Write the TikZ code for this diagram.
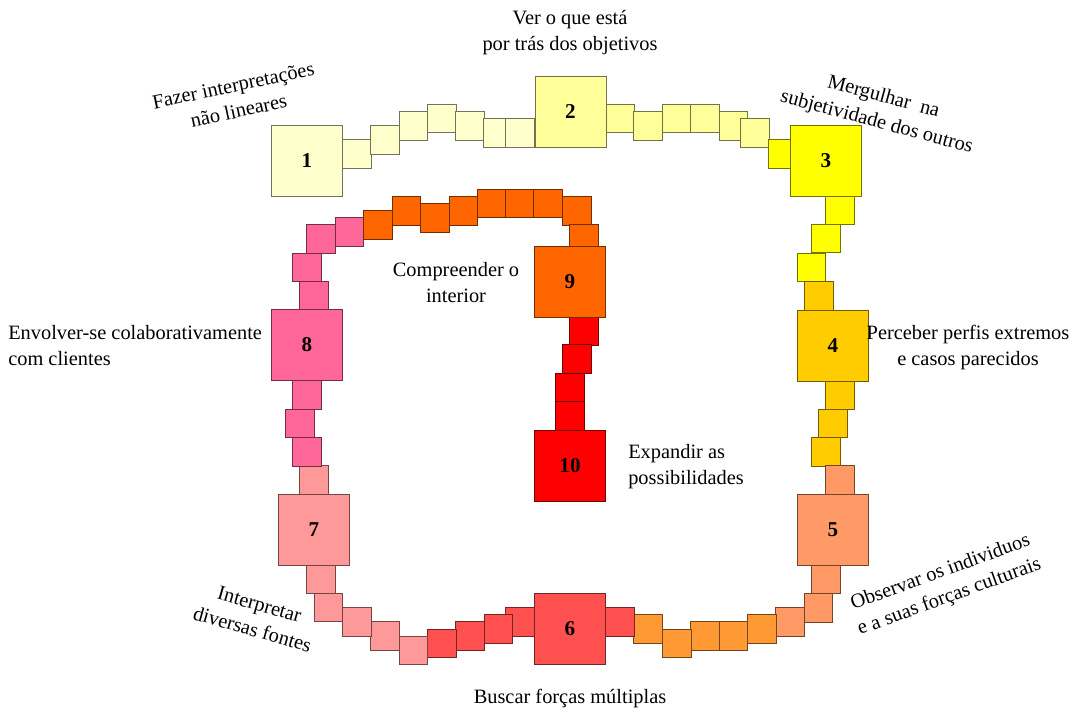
\documentclass[tikz,border=0pt]{standalone}
\usepackage{fontspec}
\setmainfont{Liberation Serif}
\usepackage{xcolor}
\definecolor{pale}{HTML}{FFFFCC}
\definecolor{cream}{HTML}{FFFF99}
\definecolor{lemon}{HTML}{FFFF00}
\definecolor{amber}{HTML}{FFCC00}
\definecolor{salmon}{HTML}{FF9966}
\definecolor{tangerine}{HTML}{FF9933}
\definecolor{coral}{HTML}{FF5050}
\definecolor{rosy}{HTML}{FF9999}
\definecolor{hotpink}{HTML}{FF6699}
\definecolor{blaze}{HTML}{FF6600}
\definecolor{scarlet}{HTML}{FF0000}
\tikzset{
  tile/.style={draw=#1!45!black, fill=#1, line width=0.7pt, minimum size=7.08mm, inner sep=0pt},
  block/.style={tile=#1, minimum size=17.75mm, font=\bfseries\fontsize{15}{18}\selectfont},
  lbl/.style={align=center, inner sep=0pt, font=\fontsize{14.5}{18.5}\selectfont}
}

\begin{document}
\begin{tikzpicture}[x=0.25mm,y=-0.25mm]
      \useasboundingbox (0,0) rectangle (1084,711);

      % 1 -> 2
      \node[tile=pale] (s1a) at (357,154)   {};
      \node[tile=pale] (s1b) at (385,140)   {};
      \node[tile=pale] (s1c) at (413.5,126) {};
      \node[tile=pale] (s1d) at (442,118.5) {};
      \node[tile=pale] (s1e) at (470,126)   {};
      \node[tile=pale] (s1f) at (498,133)   {};
      \node[tile=pale] (s1g) at (520,133)   {};
      % 2 -> 3
      \node[tile=cream] (s2a) at (620,118.5)  {};
      \node[tile=cream] (s2b) at (648,126)    {};
      \node[tile=cream] (s2c) at (677,118.5)  {};
      \node[tile=cream] (s2d) at (705,118.5)  {};
      \node[tile=cream] (s2e) at (733.5,126)  {};
      \node[tile=cream] (s2f) at (755,133)    {};
      \node[tile=lemon] (s2g) at (783,154)    {};
      % 3 -> 4
      \node[tile=lemon] (s3a) at (840,210)    {};
      \node[tile=lemon] (s3b) at (826,238.5)  {};
      \node[tile=lemon] (s3c) at (811.5,267.5){};
      \node[tile=amber] (s3d) at (819,296)    {};
      % 4 -> 5
      \node[tile=amber]  (s4a) at (840,395)   {};
      \node[tile=amber]  (s4b) at (833,423.5) {};
      \node[tile=amber]  (s4c) at (826,452)   {};
      \node[tile=salmon] (s4d) at (840,480)   {};
      % 5 -> 6
      \node[tile=salmon]    (s5a) at (826,579.5) {};
      \node[tile=salmon]    (s5b) at (818.5,608) {};
      \node[tile=salmon]    (s5c) at (790,622)   {};
      \node[tile=tangerine] (s5d) at (762,629)   {};
      \node[tile=tangerine] (s5e) at (733.5,636) {};
      \node[tile=tangerine] (s5f) at (705,636)   {};
      \node[tile=tangerine] (s5g) at (677,643.5) {};
      \node[tile=tangerine] (s5h) at (648,629)   {};
      \node[tile=coral]     (s5i) at (620,622)   {};
      % 6 -> 7
      \node[tile=coral] (s6a) at (520,622)     {};
      \node[tile=coral] (s6b) at (498.5,629)   {};
      \node[tile=coral] (s6c) at (470,636)     {};
      \node[tile=coral] (s6d) at (442,643.5)   {};
      \node[tile=rosy]  (s6e) at (413.5,650.5) {};
      \node[tile=rosy]  (s6f) at (385,636)     {};
      \node[tile=rosy]  (s6g) at (357,622)     {};
      \node[tile=rosy]  (s6h) at (328.5,607.5) {};
      \node[tile=rosy]  (s6i) at (321,579.5)   {};
      % 7 -> 8
      \node[tile=rosy]    (s7a) at (314,480)   {};
      \node[tile=hotpink] (s7b) at (307,452)   {};
      \node[tile=hotpink] (s7c) at (300,423.5) {};
      \node[tile=hotpink] (s7d) at (307,395)   {};
      % 8 -> 9
      \node[tile=hotpink] (s8a) at (314,296)   {};
      \node[tile=hotpink] (s8b) at (307,267.5) {};
      \node[tile=hotpink] (s8c) at (321,239)   {};
      \node[tile=hotpink] (s8d) at (349.5,232) {};
      \node[tile=blaze]   (s8e) at (378,225)   {};
      \node[tile=blaze]   (s8f) at (406.5,211) {};
      \node[tile=blaze]   (s8g) at (435,218)   {};
      \node[tile=blaze]   (s8h) at (463.5,211) {};
      \node[tile=blaze]   (s8i) at (492,203.5) {};
      \node[tile=blaze]   (s8j) at (520,203.5) {};
      \node[tile=blaze]   (s8k) at (548,203.5) {};
      \node[tile=blaze]   (s8l) at (577,211)   {};
      \node[tile=blaze]   (s8m) at (584,239)   {};
      % 9 -> 10
      \node[tile=scarlet] (s9a) at (584,331.5) {};
      \node[tile=scarlet] (s9b) at (577,359)   {};
      \node[tile=scarlet] (s9c) at (570,388)   {};
      \node[tile=scarlet] (s9d) at (570,416)   {};

      % the ten steps
      \node[block=pale]    (one)   at (307,161)   {1};
      \node[block=cream]   (two)   at (570.5,111.5) {2};
      \node[block=lemon]   (three) at (826,161)   {3};
      \node[block=amber]   (four)  at (833,345.5) {4};
      \node[block=salmon]  (five)  at (833,530)   {5};
      \node[block=coral]   (six)   at (570,629)   {6};
      \node[block=rosy]    (seven) at (314,530)   {7};
      \node[block=hotpink] (eight) at (307,345)   {8};
      \node[block=blaze]   (nine)  at (570,282)   {9};
      \node[block=scarlet] (ten)   at (570,466)   {10};

      % captions
      \node[lbl] (two_lab)   at (570,33)  {Ver o que está\\por trás dos objetivos};
      \node[lbl,rotate=12] (one_lab) at (236,98) {Fazer interpretações\\não lineares};
      \node[lbl,rotate=-15] (three_lab) at (880,110) {Mergulhar\ \ na\\subjetividade dos outros};
      \node[lbl] (four_lab)  at (968,347) {Perceber perfis extremos\\e casos parecidos};
      \node[lbl,rotate=20] (five_lab) at (945,585) {Observar os individuos\\e a suas forças culturais};
      \node[lbl] (six_lab)   at (570,698) {Buscar forças múltiplas};
      \node[lbl,rotate=-16] (seven_lab) at (256,617) {Interpretar\\diversas fontes};
      \node[lbl,align=left,anchor=west] (eight_lab) at (8,346) {Envolver-se colaborativamente\\com clientes};
      \node[lbl] (nine_lab)  at (456,283) {Compreender o\\interior};
      \node[lbl,align=left,anchor=west] (ten_lab) at (628,467) {Expandir as\\possibilidades};
  \end{tikzpicture}
\end{document}
